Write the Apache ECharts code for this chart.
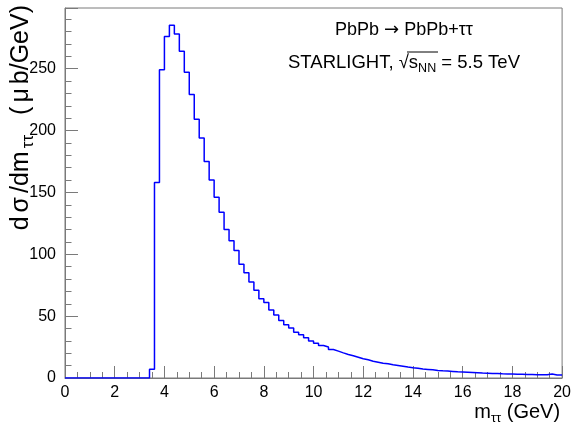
<!DOCTYPE html>
<html>
<head>
<meta charset="utf-8">
<script src="https://cdn.jsdelivr.net/npm/echarts@6/dist/echarts.min.js"></script>
<style>
    html, body { margin: 0; padding: 0; background: #fff; }
    #chart { width: 574px; height: 427px; }
</style>
</head>
<body>
<div id="chart"></div>
<script>
    // histogram binning: 100 bins from 0 to 20 GeV
    var binLow = 0;
    var binWidth = 0.2;
    // dsigma/dm per bin (ub/GeV)
    var binValues = [
        0, 0, 0, 0, 0, 0, 0, 0, 0, 0,
        0, 0, 0, 0, 0, 0, 0, 7, 158, 249,
        276, 285, 278, 264, 247, 229, 209, 194, 175, 160,
        146, 134, 120, 111, 103, 92, 85, 77.5, 71, 64,
        61, 55, 51, 46.5, 43, 40.5, 37, 35, 32.5, 30,
        28, 26.3, 25, 23, 21.7, 20.3, 19, 18, 16.8, 15.5,
        14.7, 13.6, 12.8, 12, 11.5, 10.7, 10.1, 9.5, 8.8, 8.3,
        7.9, 7.2, 6.9, 6.6, 6.1, 5.8, 5.6, 5.3, 5.0, 4.8,
        4.6, 4.4, 4.2, 4.0, 3.9, 3.7, 3.6, 3.4, 3.3, 3.2,
        3.1, 3.0, 2.9, 2.8, 2.7, 2.7, 2.6, 3.3, 2.5, 2.4
    ];
    var xTicks = [0, 2, 4, 6, 8, 10, 12, 14, 16, 18, 20];
    var yTicks = [0, 50, 100, 150, 200, 250];

    // step line points: left edge of every bin, plus the last right edge
    var histPoints = binValues.map(function (v, i) {
        return [binLow + i * binWidth, v];
    });
    histPoints.push([binLow + binValues.length * binWidth, binValues[binValues.length - 1]]);

    var font = 'Liberation Sans, Arial, Helvetica, sans-serif';
    var frameColor = '#7a7a7a';

    var myEcharts = echarts.init(document.getElementById('chart'), null, {renderer: 'canvas'});
    myEcharts.setOption({
        animation: false,
        grid: {
            left: 65, right: 10, top: 8, bottom: 49,
            show: true,
            borderColor: frameColor,
            borderWidth: 1,
            backgroundColor: '#fff'
        },
        xAxis: {
            type: 'value',
            min: xTicks[0],
            max: xTicks[xTicks.length - 1],
            interval: xTicks[1] - xTicks[0],
            name: '{a|m}{s|ττ}{a| (GeV)}',
            nameLocation: 'end',
            nameGap: -2,
            nameTextStyle: {
                align: 'right',
                verticalAlign: 'top',
                padding: [21, 0, 0, 0],
                rich: {
                    a: {fontFamily: font, fontSize: 20, color: '#000', lineHeight: 26},
                    s: {fontFamily: font, fontSize: 13, color: '#000', lineHeight: 14, verticalAlign: 'bottom'}
                }
            },
            axisLine: {show: true, lineStyle: {color: frameColor, width: 1}},
            axisTick: {show: true, inside: true, length: 12, lineStyle: {color: frameColor}},
            minorTick: {show: true, splitNumber: 4, length: 6, lineStyle: {color: frameColor}},
            splitLine: {show: false},
            axisLabel: {
                margin: 7,
                fontFamily: font,
                fontSize: 16,
                color: '#000',
                formatter: function (v) {
                    return xTicks.indexOf(v) >= 0 ? String(v) : '';
                }
            }
        },
        yAxis: {
            type: 'value',
            min: 0,
            max: 299,
            interval: yTicks[1] - yTicks[0],
            axisLine: {show: true, lineStyle: {color: frameColor, width: 1}},
            axisTick: {show: true, inside: true, length: 13, lineStyle: {color: frameColor}},
            minorTick: {show: true, splitNumber: 5, length: 6.5, lineStyle: {color: frameColor}},
            splitLine: {show: false},
            axisLabel: {
                margin: 9,
                fontFamily: font,
                fontSize: 16,
                color: '#000',
                formatter: function (v) {
                    return yTicks.indexOf(v) >= 0 ? String(v) : '';
                }
            }
        },
        graphic: [
            {
                // y axis title, rotated; greek letters get a little extra room like in ROOT
                type: 'text',
                x: 21,
                y: 5,
                rotation: Math.PI / 2,
                style: {
                    text: '{a|d}{g|σ}{a|/dm}{s|ττ}{w| }{a|(}{g|μ}{a|b/GeV)}',
                    align: 'right',
                    verticalAlign: 'middle',
                    rich: {
                        a: {fontFamily: font, fontSize: 25, fill: '#000', lineHeight: 32},
                        g: {fontFamily: font, fontSize: 25, fill: '#000', lineHeight: 32, padding: [0, 4, 0, 4]},
                        w: {fontFamily: font, fontSize: 25, fill: '#000', lineHeight: 32, padding: [0, 5, 0, 5]},
                        s: {fontFamily: font, fontSize: 17, fill: '#000', lineHeight: 18, verticalAlign: 'bottom', padding: [0, 3, 0, 3]}
                    }
                }
            },
            {
                type: 'text',
                x: 404,
                y: 30,
                style: {
                    text: '{a|PbPb }{r|→}{a| PbPb+ττ}',
                    align: 'center',
                    verticalAlign: 'middle',
                    rich: {
                        a: {fontFamily: font, fontSize: 18, fill: '#000', lineHeight: 22},
                        r: {fontFamily: 'DejaVu Sans', fontSize: 18, fill: '#000', lineHeight: 22}
                    }
                }
            },
            {
                type: 'text',
                x: 404,
                y: 63,
                style: {
                    text: '{a|STARLIGHT, √s}{s|NN}{a| = 5.5 TeV}',
                    align: 'center',
                    verticalAlign: 'middle',
                    rich: {
                        a: {fontFamily: font, fontSize: 18.5, fill: '#000', lineHeight: 24},
                        s: {fontFamily: font, fontSize: 12.5, fill: '#000', lineHeight: 13, verticalAlign: 'bottom'}
                    }
                }
            },
            {
                // bar over s_NN of the square root
                type: 'line',
                shape: {x1: 407, y1: 52, x2: 438, y2: 52},
                style: {stroke: '#000', lineWidth: 1}
            }
        ],
        series: [{
            type: 'line',
            step: 'end',
            data: histPoints,
            showSymbol: false,
            symbol: 'none',
            lineStyle: {color: '#0000ff', width: 1.5},
            itemStyle: {color: '#0000ff'}
        }]
    });
</script>
</body>
</html>
